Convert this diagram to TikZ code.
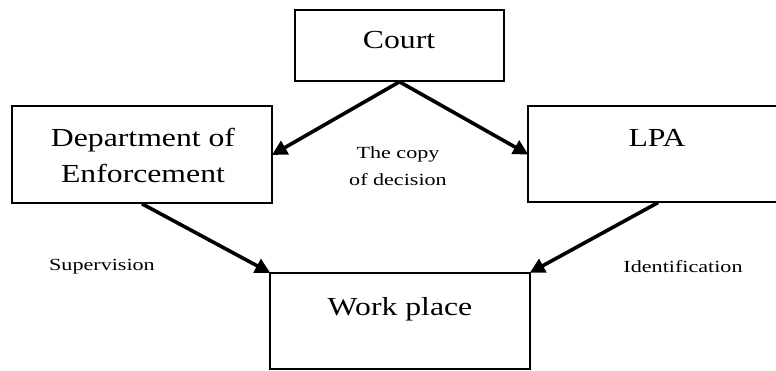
\documentclass[tikz,border=0pt]{standalone}
\usepackage{fontspec}
\setmainfont{Liberation Serif}
\newfontfamily\wideserif[FakeStretch=1.22]{Liberation Serif}
\newfontfamily\widesmall[FakeStretch=1.3]{Liberation Serif}
\usetikzlibrary{arrows.meta}
\begin{document}
\begin{tikzpicture}[x=1pt,y=-1pt,
  box/.style={draw=black,line width=1.6pt,rectangle,inner sep=0pt},
  boxtext/.style={font=\wideserif\fontsize{26}{28}\selectfont,inner sep=0pt,align=center},
  lbl/.style={font=\widesmall\fontsize{17}{27}\selectfont,inner sep=0pt,align=center},
  link/.style={line width=3.6pt,-{Triangle[length=15pt,width=15pt]},shorten >=-1pt}]
\useasboundingbox (0,0) rectangle (776,371);
% boxes
\node[box,minimum width=209pt,minimum height=71pt] (court) at (399.5,45.5) {};
\node[box,minimum width=260pt,minimum height=97pt] (dept) at (142,154.5) {};
\node[box,line width=1.2pt,minimum width=260pt,minimum height=96pt] (lpa) at (658,154) {};
\node[box,line width=1.2pt,minimum width=260pt,minimum height=96pt] (work) at (400,321) {};
% box texts
\node[boxtext] (courtT) at (399,40) {Court};
\node[boxtext] (deptT) at (143,155) {Department of\\[8pt]Enforcement};
\node[boxtext] (lpaT) at (657,138) {LPA};
\node[boxtext] (workT) at (400,309) {Work place};
% connectors
\draw[link] (court.south) -- (dept.east);
\draw[link] (court.south) -- (lpa.west);
\draw[link] (dept.south) -- (work.north west);
\draw[link] (lpa.south) -- (work.north east);
% labels
\node[lbl] (copyL) at (398,166) {The copy\\of decision};
\node[lbl] (supL) at (102,267) {Supervision};
\node[lbl] (idL) at (683,267) {Identification};
\end{tikzpicture}
\end{document}
